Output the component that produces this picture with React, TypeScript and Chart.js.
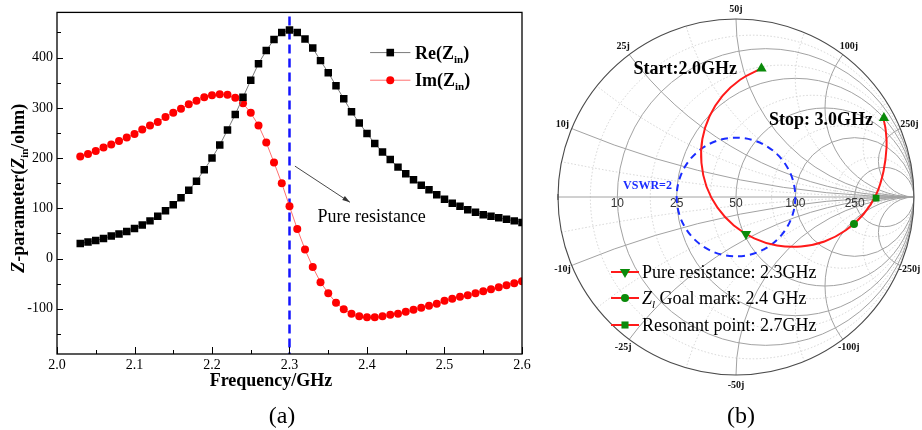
import React, { useEffect, useRef } from 'react';
import { Chart, registerables } from 'chart.js';

Chart.register(...registerables);

// ---------------- Panel (a) data ----------------
const freqGHz = [
  2.03, 2.04, 2.05, 2.06, 2.07, 2.08, 2.09, 2.10, 2.11, 2.12,
  2.13, 2.14, 2.15, 2.16, 2.17, 2.18, 2.19, 2.20, 2.21, 2.22,
  2.23, 2.24, 2.25, 2.26, 2.27, 2.28, 2.29, 2.30, 2.31, 2.32,
  2.33, 2.34, 2.35, 2.36, 2.37, 2.38, 2.39, 2.40, 2.41, 2.42,
  2.43, 2.44, 2.45, 2.46, 2.47, 2.48, 2.49, 2.50, 2.51, 2.52,
  2.53, 2.54, 2.55, 2.56, 2.57, 2.58, 2.59, 2.60,
];
const reZin = [
  30, 33, 36, 40, 45, 49, 54, 60, 67, 75,
  84, 95, 107, 121, 136, 154, 177, 200, 226, 256,
  287, 321, 355, 388, 414, 436, 450, 455, 450, 437,
  419, 394, 370, 344, 318, 292, 270, 249, 229, 212,
  197, 182, 169, 157, 146, 137, 127, 118, 110, 104,
  97, 92, 87, 84, 81, 78, 75, 72,
];
const imZin = [
  203, 208, 214, 221, 227, 234, 241, 248, 257, 265,
  272, 282, 290, 298, 307, 314, 321, 325, 327, 326,
  320, 309, 290, 265, 231, 191, 150, 104, 59, 18,
  -17, -47, -69, -88, -101, -110, -115, -117, -117, -115,
  -112, -110, -106, -102, -98, -94, -90, -84, -80, -76,
  -73, -69, -65, -61, -57, -53, -49, -45,
];
const xTickValues = [2.0, 2.1, 2.2, 2.3, 2.4, 2.5, 2.6];
const yTickValues = [-100, 0, 100, 200, 300, 400];
const pureResistanceGHz = 2.3;

// ---------------- Panel (b) data ----------------
// reflection coefficient (real / imaginary) along the 2.0 -> 3.0 GHz trajectory
const curveGammaRe = [
  0.143, 0.023, -0.076, -0.148, -0.189, -0.194, -0.166, -0.104, -0.012, 0.102,
  0.230, 0.365, 0.497, 0.617, 0.716, 0.789, 0.829, 0.846, 0.841, 0.828,
];
const curveGammaIm = [
  0.722, 0.659, 0.568, 0.455, 0.326, 0.191, 0.059, -0.060, -0.160, -0.232,
  -0.272, -0.278, -0.250, -0.187, -0.097, 0.017, 0.146, 0.282, 0.376, 0.442,
];
// start 2.0GHz, stop 3.0GHz, pure resistance 2.3GHz, goal 2.4GHz, resonant 2.7GHz
const markerGammaRe = [0.143, 0.831, 0.056, 0.663, 0.787];
const markerGammaIm = [0.722, 0.444, -0.208, -0.152, -0.006];
const markerStyles = ['triangle', 'triangle', 'triangle', 'circle', 'rect'];
const markerRotations = [0, 0, 180, 0, 0];
const rMajor = [0.2, 0.5, 1, 2, 5];
const rMajorLabels = ['10', '25', '50', '100', '250'];
const xPosLabels = ['10j', '25j', '50j', '100j', '250j'];
const xNegLabels = ['-10j', '-25j', '-50j', '-100j', '-250j'];
const rMinor = [0.1, 0.35, 0.75, 1.5, 3.5];
const vswrValue = 2;

const SERIF = "'Liberation Serif', 'Times New Roman', serif";
const SANS = "'Liberation Sans', Arial, sans-serif";
const GREEN = '#0a8a0a';

type Seg = { t: string; f: string; dy?: number };
function richWidth(ctx: CanvasRenderingContext2D, segs: Seg[]) {
  let w = 0;
  for (const s of segs) {
    ctx.font = s.f;
    w += ctx.measureText(s.t).width;
  }
  return w;
}
function drawRich(ctx: CanvasRenderingContext2D, segs: Seg[], x: number, y: number, align: 'left' | 'center' | 'right') {
  const w = richWidth(ctx, segs);
  let cx = align === 'left' ? x : align === 'center' ? x - w / 2 : x - w;
  ctx.textAlign = 'left';
  ctx.textBaseline = 'alphabetic';
  for (const s of segs) {
    ctx.font = s.f;
    ctx.fillText(s.t, cx, y + (s.dy || 0));
    cx += ctx.measureText(s.t).width;
  }
}

function drawMarker(ctx: CanvasRenderingContext2D, style: string, x: number, y: number, r: number, rot: number) {
  ctx.beginPath();
  if (style === 'triangle') {
    const sgn = rot === 180 ? -1 : 1;
    ctx.moveTo(x, y - sgn * r);
    ctx.lineTo(x + r * 0.866, y + sgn * r * 0.5);
    ctx.lineTo(x - r * 0.866, y + sgn * r * 0.5);
    ctx.closePath();
  } else if (style === 'circle') {
    ctx.arc(x, y, r, 0, Math.PI * 2);
  } else {
    ctx.rect(x - r * 0.707, y - r * 0.707, r * 1.414, r * 1.414);
  }
  ctx.fill();
}

const panelAPlugin = {
  id: 'panelA',
  beforeDatasetsDraw(chart: any) {
    const { ctx, chartArea: ca, scales } = chart;
    const px = scales.x.getPixelForValue(pureResistanceGHz);
    ctx.save();
    ctx.strokeStyle = '#1414ff';
    ctx.lineWidth = 2.5;
    ctx.setLineDash([9, 5]);
    ctx.beginPath();
    ctx.moveTo(px, ca.top + 4);
    ctx.lineTo(px, ca.bottom);
    ctx.stroke();
    ctx.restore();
  },
  afterDraw(chart: any) {
    const { ctx, chartArea: ca, scales } = chart;
    const X = (v: number) => scales.x.getPixelForValue(v);
    const Y = (v: number) => scales.y.getPixelForValue(v);
    ctx.save();
    // frame
    ctx.strokeStyle = '#000';
    ctx.lineWidth = 1.3;
    ctx.strokeRect(ca.left, ca.top, ca.right - ca.left, ca.bottom - ca.top);
    // inward ticks
    ctx.lineWidth = 1;
    ctx.beginPath();
    for (let i = 0; i <= 12; i++) {
      const v = 2.0 + i * 0.05;
      const p = Math.round(X(v)) + 0.5;
      const len = i % 2 === 0 ? 7 : 4;
      ctx.moveTo(p, ca.bottom);
      ctx.lineTo(p, ca.bottom - len);
    }
    for (let v = -150; v <= 450; v += 50) {
      const p = Math.round(Y(v)) + 0.5;
      const len = v % 100 === 0 ? 6 : 4;
      ctx.moveTo(ca.left, p);
      ctx.lineTo(ca.left + len, p);
    }
    ctx.stroke();

    // legend
    const lx0 = X(2.404), lx1 = X(2.456), tx = X(2.462);
    const ly1 = Y(410), ly2 = Y(355);
    ctx.lineWidth = 1;
    ctx.strokeStyle = '#7a7a7a';
    ctx.beginPath(); ctx.moveTo(lx0, ly1); ctx.lineTo(lx1, ly1); ctx.stroke();
    ctx.strokeStyle = '#ff7070';
    ctx.beginPath(); ctx.moveTo(lx0, ly2); ctx.lineTo(lx1, ly2); ctx.stroke();
    ctx.fillStyle = '#000';
    ctx.fillRect((lx0 + lx1) / 2 - 3.8, ly1 - 3.8, 7.6, 7.6);
    ctx.fillStyle = '#ff0000';
    ctx.beginPath(); ctx.arc((lx0 + lx1) / 2, ly2, 4, 0, Math.PI * 2); ctx.fill();
    ctx.fillStyle = '#000';
    const B18 = `bold 18px ${SERIF}`;
    const B11 = `bold 11px ${SERIF}`;
    drawRich(ctx, [{ t: 'Re(Z', f: B18 }, { t: 'in', f: B11, dy: 4 }, { t: ')', f: B18 }], tx, ly1 + 6, 'left');
    drawRich(ctx, [{ t: 'Im(Z', f: B18 }, { t: 'in', f: B11, dy: 4 }, { t: ')', f: B18 }], tx, ly2 + 6, 'left');

    // arrow
    const ax0 = X(2.307), ay0 = Y(184), ax1 = X(2.378), ay1 = Y(112);
    ctx.strokeStyle = '#333';
    ctx.fillStyle = '#333';
    ctx.lineWidth = 0.9;
    ctx.beginPath(); ctx.moveTo(ax0, ay0); ctx.lineTo(ax1, ay1); ctx.stroke();
    const ang = Math.atan2(ay1 - ay0, ax1 - ax0);
    ctx.beginPath();
    ctx.moveTo(ax1, ay1);
    ctx.lineTo(ax1 - 8 * Math.cos(ang - 0.3), ay1 - 8 * Math.sin(ang - 0.3));
    ctx.lineTo(ax1 - 8 * Math.cos(ang + 0.3), ay1 - 8 * Math.sin(ang + 0.3));
    ctx.closePath();
    ctx.fill();
    ctx.fillStyle = '#000';
    drawRich(ctx, [{ t: 'Pure resistance', f: `18px ${SERIF}` }], X(2.336), Y(84) + 6, 'left');

    // axis titles
    drawRich(ctx, [{ t: 'Frequency/GHz', f: B18 }], 271, ca.bottom + 32, 'center');
    ctx.save();
    ctx.translate(ca.left - 33, (ca.top + ca.bottom) / 2 + 5);
    ctx.rotate(-Math.PI / 2);
    drawRich(ctx, [
      { t: 'Z', f: `italic bold 18px ${SERIF}` },
      { t: '-parameter(', f: B18 },
      { t: 'Z', f: `italic bold 18px ${SERIF}` },
      { t: 'in', f: B11, dy: 4 },
      { t: '/ohm)', f: B18 },
    ], 0, 0, 'center');
    ctx.restore();
    drawRich(ctx, [{ t: '(a)', f: `24px ${SERIF}` }], 282, 423, 'center');
    ctx.restore();
  },
};

const smithPlugin = {
  id: 'smithGrid',
  beforeDatasetsDraw(chart: any) {
    const { ctx, scales } = chart;
    const X = (v: number) => scales.x.getPixelForValue(v);
    const Y = (v: number) => scales.y.getPixelForValue(v);
    const ox = X(0), oy = Y(0);
    const R = X(1) - X(0);
    ctx.save();
    ctx.beginPath();
    ctx.arc(ox, oy, R, 0, Math.PI * 2);
    ctx.clip();
    const rCircle = (r: number) => {
      ctx.beginPath();
      ctx.arc(X(r / (1 + r)), oy, R / (1 + r), 0, Math.PI * 2);
      ctx.stroke();
    };
    const xArc = (x: number) => {
      ctx.beginPath();
      ctx.arc(X(1), Y(1 / x), R / Math.abs(x), 0, Math.PI * 2);
      ctx.stroke();
    };
    ctx.strokeStyle = '#cfcfcf';
    ctx.lineWidth = 0.9;
    ctx.setLineDash([1.5, 2]);
    for (const r of rMinor) { rCircle(r); xArc(r); xArc(-r); }
    ctx.setLineDash([]);
    ctx.strokeStyle = '#a2a2a2';
    ctx.lineWidth = 1;
    for (const r of rMajor) { rCircle(r); xArc(r); xArc(-r); }
    ctx.beginPath(); ctx.moveTo(X(-1), oy); ctx.lineTo(X(1), oy); ctx.stroke();
    ctx.restore();

    ctx.save();
    ctx.strokeStyle = '#4a4a4a';
    ctx.lineWidth = 1.1;
    ctx.beginPath(); ctx.arc(ox, oy, R, 0, Math.PI * 2); ctx.stroke();
    ctx.beginPath(); ctx.moveTo(X(-1), oy - 3); ctx.lineTo(X(-1), oy + 3); ctx.stroke();

    // resistance labels
    ctx.fillStyle = '#333';
    ctx.font = `12px ${SANS}`;
    ctx.textAlign = 'center';
    ctx.textBaseline = 'middle';
    rMajor.forEach((r, i) => {
      ctx.fillText(rMajorLabels[i], X((r - 1) / (r + 1)), oy + 7);
    });
    // reactance labels
    ctx.fillStyle = '#111';
    ctx.font = `bold 10px ${SERIF}`;
    rMajor.forEach((x, i) => {
      const gr = (x * x - 1) / (x * x + 1);
      const gi = (2 * x) / (x * x + 1);
      ctx.fillText(xPosLabels[i], X(gr) + gr * 10, Y(gi) - gi * 10);
      ctx.fillText(xNegLabels[i], X(gr) + gr * 10, Y(-gi) + gi * 10);
    });

    // VSWR circle
    const g = (vswrValue - 1) / (vswrValue + 1);
    ctx.strokeStyle = '#1a2cff';
    ctx.lineWidth = 2;
    ctx.setLineDash([7, 5]);
    ctx.beginPath(); ctx.arc(ox, oy, g * R, 0, Math.PI * 2); ctx.stroke();
    ctx.restore();
  },
  afterDraw(chart: any) {
    const { ctx, scales } = chart;
    const X = (v: number) => scales.x.getPixelForValue(v);
    const Y = (v: number) => scales.y.getPixelForValue(v);
    const ox = X(0), oy = Y(0);
    ctx.save();
    ctx.fillStyle = '#000';
    drawRich(ctx, [{ t: 'Start:2.0GHz', f: `bold 18px ${SERIF}` }], X(0.006), Y(0.725) + 6, 'right');
    drawRich(ctx, [{ t: 'Stop: 3.0GHz', f: `bold 18px ${SERIF}` }], X(0.770), Y(0.438) + 6, 'right');
    ctx.fillStyle = '#1a2cff';
    drawRich(ctx, [{ t: `VSWR=${vswrValue}`, f: `bold 12px ${SERIF}` }], X(-0.36), Y(0.067) + 4, 'right');

    // legend (b)
    const rows = [75, 101, 128];
    const styles = ['triangle', 'circle', 'rect'];
    const rots = [180, 0, 0];
    const R18 = `18px ${SERIF}`;
    const texts: Seg[][] = [
      [{ t: 'Pure resistance: 2.3GHz', f: R18 }],
      [{ t: 'Z', f: `italic 18px ${SERIF}` }, { t: 'l', f: `italic 11px ${SERIF}`, dy: 4 }, { t: ' Goal mark: 2.4 GHz', f: R18 }],
      [{ t: 'Resonant point: 2.7GHz', f: R18 }],
    ];
    rows.forEach((dy, i) => {
      const y = oy + dy;
      ctx.strokeStyle = '#ff1a1a';
      ctx.lineWidth = 2;
      ctx.beginPath(); ctx.moveTo(ox - 125, y); ctx.lineTo(ox - 97, y); ctx.stroke();
      ctx.fillStyle = GREEN;
      drawMarker(ctx, styles[i], ox - 111, y, styles[i] === 'triangle' ? 6 : styles[i] === 'circle' ? 4 : 5, rots[i]);
      ctx.fillStyle = '#000';
      drawRich(ctx, texts[i], ox - 94, y + 6, 'left');
    });
    ctx.fillStyle = '#000';
    drawRich(ctx, [{ t: '(b)', f: `24px ${SERIF}` }], ox + 5, 423, 'center');
    ctx.restore();
  },
};

function PanelA() {
  const ref = useRef<HTMLCanvasElement>(null);
  useEffect(() => {
    const canvas = ref.current!;
    const chart = new Chart(canvas, {
      type: 'scatter',
      data: {
        datasets: [
          {
            label: 'Re(Zin)',
            data: freqGHz.map((f, i) => ({ x: f, y: reZin[i] })),
            showLine: true,
            borderColor: '#7a7a7a',
            borderWidth: 1,
            pointStyle: 'rect',
            pointRadius: 5.3,
            pointBackgroundColor: '#000',
            pointBorderColor: '#000',
            pointBorderWidth: 0,
            order: 0,
          },
          {
            label: 'Im(Zin)',
            data: freqGHz.map((f, i) => ({ x: f, y: imZin[i] })),
            showLine: true,
            borderColor: '#ff7070',
            borderWidth: 1,
            pointStyle: 'circle',
            pointRadius: 4,
            pointBackgroundColor: '#ff0000',
            pointBorderColor: '#ff0000',
            pointBorderWidth: 0,
            order: 1,
          },
        ],
      },
      options: {
        responsive: false,
        animation: false,
        devicePixelRatio: 1,
        layout: { padding: { left: 0, right: 18, top: 7, bottom: 0 } },
        plugins: { legend: { display: false }, tooltip: { enabled: false } },
        scales: {
          x: {
            type: 'linear',
            min: 2.0,
            max: 2.6,
            afterFit: (s: any) => { s.height = 76; },
            afterBuildTicks: (s: any) => { s.ticks = xTickValues.map((v) => ({ value: v })); },
            grid: { display: false, drawTicks: false },
            border: { display: false },
            ticks: {
              padding: 3,
              maxRotation: 0,
              autoSkip: false,
              color: '#000',
              font: { family: SERIF, size: 14 },
              callback: (v: any) => Number(v).toFixed(1),
            },
          },
          y: {
            type: 'linear',
            min: -190,
            max: 490,
            afterFit: (s: any) => { s.width = 57; },
            afterBuildTicks: (s: any) => { s.ticks = yTickValues.map((v) => ({ value: v })); },
            grid: { display: false, drawTicks: false },
            border: { display: false },
            ticks: {
              padding: 4,
              autoSkip: false,
              color: '#000',
              font: { family: SERIF, size: 14 },
              callback: (v: any) => String(v),
            },
          },
        },
      },
      plugins: [panelAPlugin],
    } as any);
    return () => chart.destroy();
  }, []);
  return (
    <canvas ref={ref} width={540} height={430}
      style={{ position: 'absolute', left: 0, top: 0, width: 540, height: 430 }} />
  );
}

function PanelB() {
  const ref = useRef<HTMLCanvasElement>(null);
  useEffect(() => {
    const canvas = ref.current!;
    const chart = new Chart(canvas, {
      type: 'scatter',
      data: {
        datasets: [
          {
            label: 'markers',
            data: markerGammaRe.map((g, i) => ({ x: g, y: markerGammaIm[i] })),
            pointStyle: markerStyles,
            rotation: markerRotations,
            pointRadius: [6, 6, 6, 4, 4.8],
            pointBackgroundColor: GREEN,
            pointBorderColor: GREEN,
            pointBorderWidth: 0,
            order: 0,
          },
          {
            label: 'trajectory',
            data: curveGammaRe.map((g, i) => ({ x: g, y: curveGammaIm[i] })),
            showLine: true,
            borderColor: '#ff1a1a',
            borderWidth: 2,
            tension: 0.4,
            pointRadius: 0,
            order: 1,
          },
        ],
      },
      options: {
        responsive: false,
        animation: false,
        devicePixelRatio: 1,
        layout: { padding: { left: 18, right: 8, top: 19, bottom: 55 } },
        plugins: { legend: { display: false }, tooltip: { enabled: false } },
        scales: {
          x: { type: 'linear', min: -1, max: 1, display: false },
          y: { type: 'linear', min: -1, max: 1, display: false },
        },
      },
      plugins: [smithPlugin],
    } as any);
    return () => chart.destroy();
  }, []);
  return (
    <canvas ref={ref} width={382} height={430}
      style={{ position: 'absolute', left: 540, top: 0, width: 382, height: 430 }} />
  );
}

export default function App() {
  return (
    <div style={{ position: 'absolute', left: 0, top: 0, width: 922, height: 430, background: '#fff', overflow: 'hidden' }}>
      <PanelA />
      <PanelB />
    </div>
  );
}
